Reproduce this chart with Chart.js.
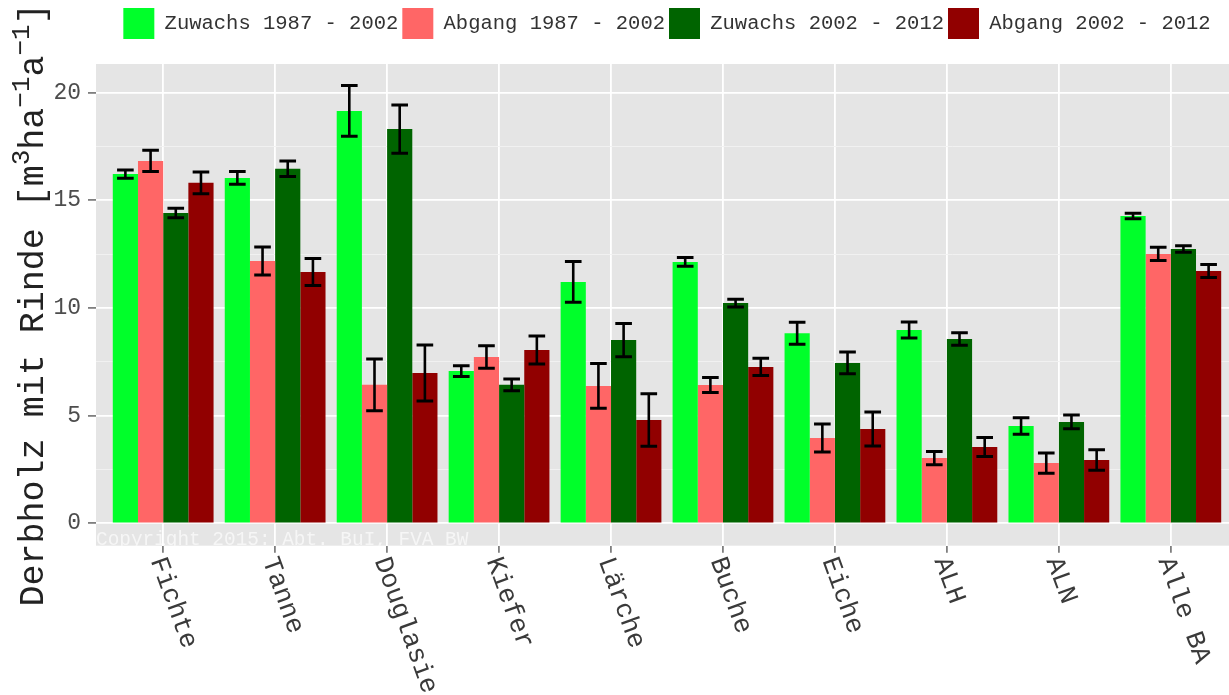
<!DOCTYPE html>
<html>
<head>
<meta charset="utf-8">
<script src="https://cdn.jsdelivr.net/npm/chart.js@4.4.1/dist/chart.umd.min.js"></script>
<style>
html, body { margin: 0; padding: 0; background: #fff; overflow: hidden; width: 1229px; height: 695px; }
canvas { display: block; }
</style>
</head>
<body>
<canvas id="chart" width="1238" height="695"></canvas>
<script>
// Data
var CATEGORIES = ['Fichte', 'Tanne', 'Douglasie', 'Kiefer', 'Lärche', 'Buche', 'Eiche', 'ALH', 'ALN', 'Alle BA'];
var SERIES_NAMES = ['Zuwachs 1987 - 2002', 'Abgang 1987 - 2002', 'Zuwachs 2002 - 2012', 'Abgang 2002 - 2012'];
var COLORS = ['#00ff2a', '#ff6666', '#006400', '#910000'];

var ZUWACHS_1987 = [16.22, 16.04, 19.15, 7.07, 11.21, 12.14, 8.83, 8.98, 4.52, 14.27];
var ZUWACHS_1987_ERR = [0.19, 0.30, 1.18, 0.25, 0.95, 0.20, 0.51, 0.37, 0.38, 0.13];
var ABGANG_1987 = [16.83, 12.18, 6.43, 7.72, 6.38, 6.42, 3.96, 3.03, 2.80, 12.51];
var ABGANG_1987_ERR = [0.49, 0.65, 1.20, 0.52, 1.04, 0.35, 0.65, 0.31, 0.47, 0.31];
var ZUWACHS_2002 = [14.41, 16.46, 18.31, 6.43, 8.51, 10.23, 7.45, 8.56, 4.71, 12.74];
var ZUWACHS_2002_ERR = [0.22, 0.36, 1.12, 0.27, 0.77, 0.18, 0.50, 0.29, 0.32, 0.15];
var ABGANG_2002 = [15.81, 11.67, 6.98, 8.05, 4.80, 7.26, 4.38, 3.54, 2.94, 11.72];
var ABGANG_2002_ERR = [0.51, 0.63, 1.30, 0.65, 1.22, 0.40, 0.79, 0.44, 0.48, 0.30];

var Y_TICKS = [0, 2.5, 5, 7.5, 10, 12.5, 15, 17.5, 20];
var COPYRIGHT = 'Copyright 2015: Abt. BuI, FVA BW';

var VALUES = [ZUWACHS_1987, ABGANG_1987, ZUWACHS_2002, ABGANG_2002];
var ERRORS = [ZUWACHS_1987_ERR, ABGANG_1987_ERR, ZUWACHS_2002_ERR, ABGANG_2002_ERR];

var MONO = '"Liberation Mono", "Courier New", monospace';

function isMajor(v) { return v % 5 === 0; }

// grey panel + watermark, drawn under the grid
var panelPlugin = {
    id: 'panel',
    beforeDraw: function (chart) {
        var a = chart.chartArea, ctx = chart.ctx;
        ctx.save();
        ctx.fillStyle = '#e5e5e5';
        ctx.fillRect(a.left, a.top, a.right - a.left, a.bottom - a.top);
        ctx.beginPath();
        ctx.rect(a.left, a.top, a.right - a.left, a.bottom - a.top);
        ctx.clip();
        ctx.font = '19.4px ' + MONO;
        ctx.fillStyle = 'rgba(255,255,255,0.65)';
        ctx.textBaseline = 'alphabetic';
        ctx.fillText(COPYRIGHT, a.left, a.bottom - 1);
        ctx.restore();
    }
};

// error bars on top of the bars
var errorBarPlugin = {
    id: 'errorBars',
    afterDatasetsDraw: function (chart) {
        var ys = chart.scales.y, ctx = chart.ctx;
        ctx.save();
        ctx.strokeStyle = '#000';
        ctx.lineCap = 'butt';
        chart.data.datasets.forEach(function (ds, i) {
            var meta = chart.getDatasetMeta(i);
            meta.data.forEach(function (bar, j) {
                var v = VALUES[i][j], e = ERRORS[i][j];
                var top = ys.getPixelForValue(v + e);
                var bot = ys.getPixelForValue(v - e);
                var half = bar.width * 0.33;
                ctx.lineWidth = 2.6;
                ctx.beginPath();
                ctx.moveTo(bar.x, top); ctx.lineTo(bar.x, bot);
                ctx.stroke();
                ctx.lineWidth = 3;
                ctx.beginPath();
                ctx.moveTo(bar.x - half, top); ctx.lineTo(bar.x + half, top);
                ctx.moveTo(bar.x - half, bot); ctx.lineTo(bar.x + half, bot);
                ctx.stroke();
            });
        });
        ctx.restore();
    }
};

// rotated category labels and the y title with superscripts
var labelPlugin = {
    id: 'labels',
    afterDraw: function (chart) {
        var ctx = chart.ctx, xs = chart.scales.x, a = chart.chartArea;
        ctx.save();
        ctx.font = '26.5px ' + MONO;
        ctx.fillStyle = '#3a3a3a';
        ctx.textAlign = 'left';
        ctx.textBaseline = 'middle';
        CATEGORIES.forEach(function (c, i) {
            var px = xs.getPixelForValue(i + 1);
            ctx.save();
            ctx.translate(px - 6, 558);
            ctx.rotate(70 * Math.PI / 180);
            ctx.fillText(c, 0, 0);
            ctx.restore();
        });
        ctx.restore();

        var parts = [
            ['Derbholz mit Rinde [m', false], ['3', true], ['ha', false],
            ['\u22121', true], ['a', false], ['\u22121', true], [']', false]
        ];
        var bigFont = '35px ' + MONO, smallFont = '26px ' + MONO;
        ctx.save();
        ctx.fillStyle = '#222';
        ctx.textBaseline = 'alphabetic';
        ctx.textAlign = 'left';
        var total = 0;
        parts.forEach(function (p) {
            ctx.font = p[1] ? smallFont : bigFont;
            total += ctx.measureText(p[0]).width;
        });
        ctx.translate(43, (a.top + a.bottom) / 2);
        ctx.rotate(-Math.PI / 2);
        var x = -total / 2;
        parts.forEach(function (p) {
            ctx.font = p[1] ? smallFont : bigFont;
            ctx.fillText(p[0], x, p[1] ? -14 : 0);
            x += ctx.measureText(p[0]).width;
        });
        ctx.restore();
    }
};

// extra room between legend and panel
var legendGapPlugin = {
    id: 'legendGap',
    afterInit: function (chart) {
        var fit = chart.legend.fit;
        chart.legend.fit = function () {
            fit.call(this);
            this.height += 15;
        };
    }
};

var datasets = SERIES_NAMES.map(function (name, i) {
    return {
        label: name,
        data: VALUES[i].map(function (v, j) { return { x: j + 1, y: v }; }),
        backgroundColor: COLORS[i],
        borderWidth: 0,
        categoryPercentage: 0.9,
        barPercentage: 1.0
    };
});

new Chart(document.getElementById('chart'), {
    type: 'bar',
    data: { datasets: datasets },
    plugins: [panelPlugin, errorBarPlugin, labelPlugin, legendGapPlugin],
    options: {
        responsive: false,
        animation: false,
        events: [],
        layout: { padding: { top: 4, left: 0, right: 0, bottom: 0 } },
        plugins: {
            tooltip: { enabled: false },
            legend: {
                position: 'top',
                fullSize: false,
                labels: {
                    boxWidth: 31,
                    boxHeight: 31,
                    padding: 4,
                    color: '#333',
                    font: { family: MONO, size: 20.5 }
                }
            }
        },
        scales: {
            x: {
                type: 'linear',
                min: 0.4,
                max: 10.6,
                offset: false,
                afterBuildTicks: function (axis) {
                    axis.ticks = CATEGORIES.map(function (c, i) { return { value: i + 1 }; });
                },
                afterFit: function (axis) { axis.height = 149.3; },
                border: { display: false },
                grid: {
                    offset: false,
                    color: '#ffffff',
                    lineWidth: 1.8,
                    tickColor: '#7f7f7f',
                    tickLength: 7,
                    tickWidth: 1.8
                },
                ticks: { display: false }
            },
            y: {
                type: 'linear',
                min: -1.04,
                max: 21.33,
                afterBuildTicks: function (axis) {
                    axis.ticks = Y_TICKS.map(function (v) { return { value: v }; });
                },
                afterFit: function (axis) { axis.width = 96; },
                border: { display: false },
                grid: {
                    color: function (ctx) { return isMajor(ctx.tick.value) ? '#ffffff' : '#f2f2f2'; },
                    lineWidth: function (ctx) { return isMajor(ctx.tick.value) ? 1.8 : 0.9; },
                    tickColor: function (ctx) { return isMajor(ctx.tick.value) ? '#7f7f7f' : 'rgba(0,0,0,0)'; },
                    tickLength: 8,
                    tickWidth: 1.8
                },
                ticks: {
                    autoSkip: false,
                    padding: 7,
                    color: '#4d4d4d',
                    font: { family: MONO, size: 23 },
                    callback: function (v) { return isMajor(v) ? String(v) : ''; }
                }
            }
        }
    }
});
</script>
</body>
</html>
